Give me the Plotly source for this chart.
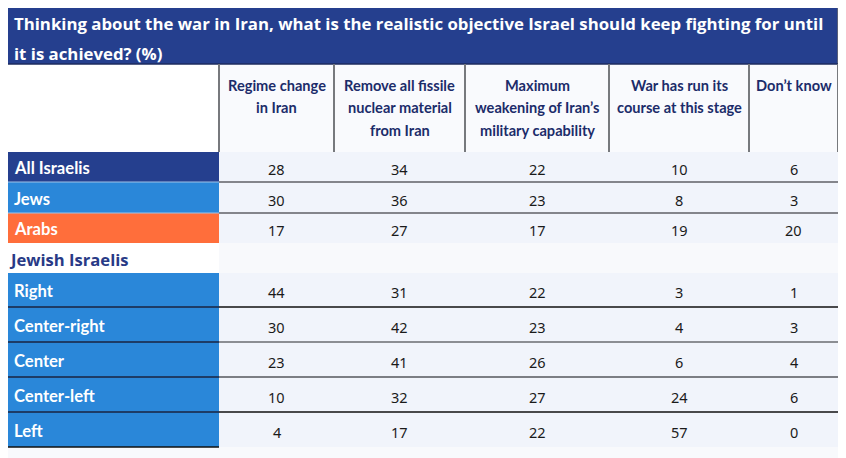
import plotly.graph_objects as go

# table content
title_lines = ["Thinking about the war in Iran, what is the realistic objective Israel should keep fighting for until",
               "it is achieved? (%)"]
columns = ["Regime change<br>in Iran",
           "Remove all fissile<br>nuclear material<br>from Iran",
           "Maximum<br>weakening of Iran’s<br>military capability",
           "War has run its<br>course at this stage",
           "Don’t know"]
groups = ["All Israelis", "Jews", "Arabs", "Jewish Israelis",
          "Right", "Center-right", "Center", "Center-left", "Left"]
regime_change = [28, 30, 17, None, 44, 30, 23, 10, 4]
remove_fissile = [34, 36, 27, None, 31, 42, 41, 32, 17]
max_weakening = [22, 23, 17, None, 22, 23, 26, 27, 22]
run_its_course = [10, 8, 19, None, 3, 4, 6, 24, 57]
dont_know = [6, 3, 20, None, 1, 3, 4, 6, 0]
series = [regime_change, remove_fissile, max_weakening, run_its_course, dont_know]

# layout in page pixels (the page body has an 8px margin, so the axes start at 8)
W, H = 846, 458
OFF = 8
col_edges = [7, 219, 334, 465, 609, 749, 838]
row_edges = [152, 182, 213, 243, 273, 307, 342, 377, 412, 447]
title_top, header_top = 4, 64

NAVY = "#253f8e"
BLUE = "#2a87d9"
ORANGE = "#ff6e3b"
label_fill = [NAVY, BLUE, ORANGE, "#ffffff", BLUE, BLUE, BLUE, BLUE, BLUE]
label_color = ["white", "white", "white", "#283a86", "white", "white", "white", "white", "white"]
cell_fill = ["#f1f4fb"] * 3 + ["#f8f9fc"] + ["#f1f4fb"] * 5
# line under each row (data part), None = no line
row_line = ["#5f6166", "#5f6166", None, None, "#111111", "#6a6c70", "#55575c", "#111111", None]

LABEL_FONT = "Lato, Roboto, sans-serif"

shapes = []
annotations = []

def rect(x0, y0, x1, y1, fill):
    shapes.append(dict(type="rect", xref="x", yref="y", x0=x0, y0=y0, x1=x1, y1=y1,
                       fillcolor=fill, line=dict(width=0), layer="below"))

def line(x0, y0, x1, y1, color, width=1.5):
    shapes.append(dict(type="line", xref="x", yref="y", x0=x0, y0=y0, x1=x1, y1=y1,
                       line=dict(color=color, width=width)))

def text(x, y, s, font, xanchor="center"):
    annotations.append(dict(x=x, y=y, text=s, xanchor=xanchor, yanchor="middle",
                            showarrow=False, font=font, borderpad=0))

# title band
rect(col_edges[0], title_top, col_edges[-1], header_top, NAVY)
for i, tl in enumerate(title_lines):
    text(col_edges[0] + 6, 23 + 30 * i, tl,
         dict(family="Open Sans, Inter, sans-serif", size=16.8, color="white", weight="bold"),
         xanchor="left")
line(col_edges[0], title_top, col_edges[-1], title_top, "#6b6d72")
line(col_edges[0], title_top, col_edges[0], header_top, "#6b6d72")
line(col_edges[-1], title_top, col_edges[-1], header_top, "#6b6d72")
line(col_edges[0], header_top, col_edges[-1], header_top, "#1c2b5e")

# header row
rect(col_edges[0], header_top, col_edges[1], row_edges[0], "#ffffff")
rect(col_edges[1], header_top, col_edges[-1], row_edges[0], "#f9fafd")
for x in col_edges:
    line(x, header_top, x, row_edges[0], "#77797d", 2)
for c, name in enumerate(columns):
    for k, part in enumerate(name.split("<br>")):
        text((col_edges[c + 1] + col_edges[c + 2]) / 2, 85 + 22.5 * k, part,
             dict(family=LABEL_FONT, size=14.6, color="#1c2c6a", weight="bold"))

# body rows
for r, grp in enumerate(groups):
    y0, y1 = row_edges[r], row_edges[r + 1]
    yc = (y0 + y1) / 2
    rect(col_edges[0], y0, col_edges[1], y1, label_fill[r])
    rect(col_edges[1], y0, col_edges[-1], y1, cell_fill[r])
    if label_fill[r] == "#ffffff":
        # sub-heading row
        text(OFF, yc + 1, grp,
             dict(family="Open Sans, Noto Sans, sans-serif", size=16.6, color=label_color[r],
                  weight="bold"), xanchor="left")
    else:
        text(col_edges[0] + 6, yc + 1, grp,
             dict(family=LABEL_FONT, size=16.6, color=label_color[r], weight="bold"), xanchor="left")
    for c, vals in enumerate(series):
        if vals[r] is None:
            continue
        text((col_edges[c + 1] + col_edges[c + 2]) / 2, yc + 2, str(vals[r]),
             dict(family="Noto Sans, Open Sans, sans-serif", size=14.5, color="#1a1a1a"))
    if row_line[r]:
        line(col_edges[1], y1, col_edges[-1], y1, row_line[r])
        if r >= 4:
            line(col_edges[0], y1, col_edges[1], y1, "#1a2340")
        else:
            line(col_edges[0], y1, col_edges[1], y1, "#9fc3e8", 1)

# left border of the political block, bottom edge of its label column
line(col_edges[0], row_edges[4], col_edges[0], row_edges[-1], "#3a3d45", 2)
line(col_edges[0], row_edges[-1], col_edges[1], row_edges[-1], "#111111", 1.5)

fig = go.Figure()
fig.update_layout(
    width=W - OFF, height=H - OFF,
    margin=dict(l=0, r=0, t=0, b=0),
    paper_bgcolor="#f8f9fc", plot_bgcolor="#f8f9fc",
    xaxis=dict(range=[OFF, W], visible=False, fixedrange=True),
    yaxis=dict(range=[H, OFF], visible=False, fixedrange=True),
    shapes=shapes, annotations=annotations, showlegend=False,
)
fig.write_html("out.html", config=dict(displayModeBar=False))
